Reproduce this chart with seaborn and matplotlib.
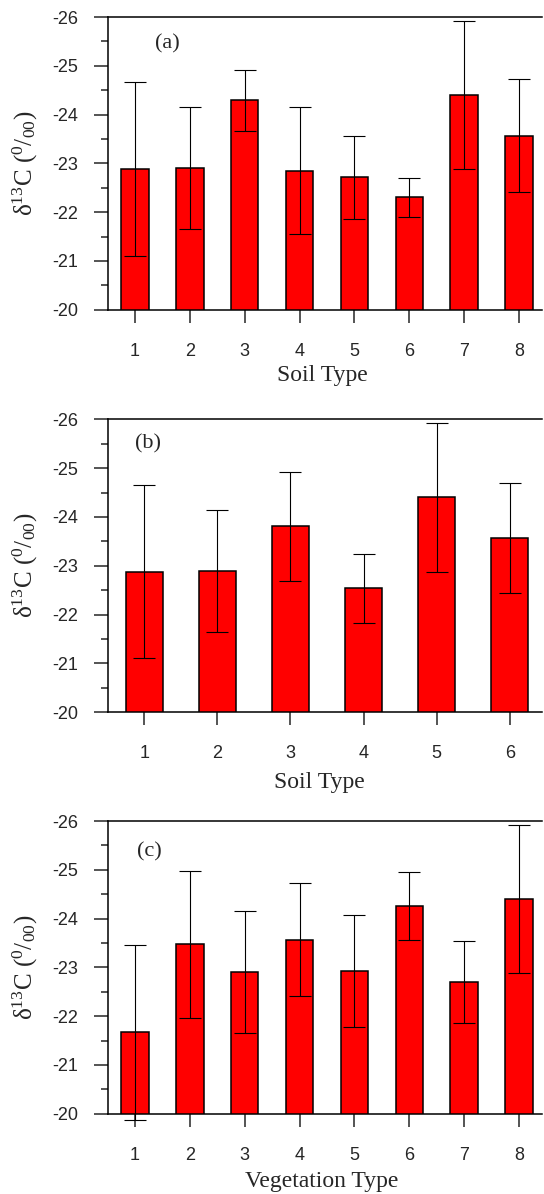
import matplotlib
matplotlib.use("Agg")
import matplotlib.pyplot as plt
import seaborn as sns
import numpy as np
import pandas as pd
from matplotlib.ticker import MultipleLocator

# ---- data ----
soil_a_labels = ["1", "2", "3", "4", "5", "6", "7", "8"]
soil_a_means = [-22.88, -22.90, -24.29, -22.85, -22.71, -22.30, -24.40, -23.57]
soil_a_err = [1.78, 1.25, 0.63, 1.30, 0.85, 0.40, 1.52, 1.16]

soil_b_labels = ["1", "2", "3", "4", "5", "6"]
soil_b_means = [-22.88, -22.90, -23.81, -22.54, -24.40, -23.57]
soil_b_err = [1.78, 1.25, 1.12, 0.71, 1.52, 1.12]

veg_labels = ["1", "2", "3", "4", "5", "6", "7", "8"]
veg_means = [-21.67, -23.47, -22.90, -23.57, -22.93, -24.26, -22.71, -24.41]
veg_err = [1.79, 1.50, 1.25, 1.16, 1.145, 0.69, 0.84, 1.52]

panel_tags = ["(a)", "(b)", "(c)"]
x_titles = ["Soil Type", "Soil Type", "Vegetation Type"]
y_title = "δ$^{13}$C ($^{0}$/$_{00}$)"

sns.set_style("ticks")
plt.rcParams["font.family"] = ["Liberation Sans", "DejaVu Sans"]
plt.rcParams["axes.unicode_minus"] = False
plt.rcParams["mathtext.fontset"] = "custom"
plt.rcParams["mathtext.rm"] = "Liberation Serif"
plt.rcParams["mathtext.it"] = "Liberation Serif:italic"
plt.rcParams["mathtext.bf"] = "Liberation Serif:bold"

W, H = 544, 1194
fig = plt.figure(figsize=(W / 100, H / 100), dpi=100)

x_left_px = 107.7
x_right_px = 541.5
left = x_left_px / W
width = (x_right_px - x_left_px) / W
panels = [
    (17.0, 309.7),
    (419.4, 712.1),
    (821.1, 1113.7),
]
full_right_px = 546.3
datasets = [
    (soil_a_labels, soil_a_means, soil_a_err),
    (soil_b_labels, soil_b_means, soil_b_err),
    (veg_labels, veg_means, veg_err),
]
tag_pos = [(0.135, 0.907), (0.091, 0.915), (0.096, 0.895)]
xlab_x = [0.49, 0.482, 0.487]
xlab_y = [-0.188, -0.206, -0.195]

serif = ["Liberation Serif", "DejaVu Serif"]
ratio = (full_right_px - x_left_px) / (x_right_px - x_left_px)

for i, ((top, bot), (labs, means, errs)) in enumerate(zip(panels, datasets)):
    ax = fig.add_axes([left, 1 - bot / H, width, (bot - top) / H])
    df = pd.DataFrame({"type": labs, "d13C": means})
    sns.barplot(data=df, x="type", y="d13C", color="#ff0000", saturation=1,
                edgecolor="black", linewidth=1.1, width=0.5, ax=ax, zorder=2)
    xs = np.arange(len(labs))
    ax.errorbar(xs, means, yerr=errs, fmt="none", ecolor="black",
                elinewidth=0.8, capsize=7.7, capthick=0.8, zorder=3,
                clip_on=False)
    n = len(labs)
    unit_px = (full_right_px - x_left_px) / n
    ax.set_xlim(-0.5, -0.5 + (x_right_px - x_left_px) / unit_px)
    ax.set_ylim(-20, -26)
    ax.yaxis.set_major_locator(MultipleLocator(1))
    ax.yaxis.set_minor_locator(MultipleLocator(0.5))
    ax.tick_params(axis="y", which="major", length=10, width=1.1,
                   direction="out", pad=11.5, labelsize=13, right=False)
    ax.tick_params(axis="y", which="minor", length=5, width=1.1,
                   direction="out", right=False)
    ax.tick_params(axis="x", which="major", length=9.7, width=1.1,
                   direction="out", pad=14.0, labelsize=13, top=False)
    for s in ["left", "top", "bottom"]:
        ax.spines[s].set_linewidth(1.1)
        ax.spines[s].set_color("black")
    ax.spines["right"].set_visible(False)
    ax.set_xlabel(x_titles[i], fontsize=17, family=serif)
    ax.xaxis.set_label_coords(xlab_x[i] * ratio, xlab_y[i])
    ax.set_ylabel(y_title, fontsize=18, family=serif)
    ax.yaxis.set_label_coords(-0.155 * ratio, 0.5)
    ax.text(tag_pos[i][0] * ratio, tag_pos[i][1], panel_tags[i], transform=ax.transAxes,
            ha="center", va="center", fontsize=16, family=serif)

fig.savefig("out.png", dpi=100)
